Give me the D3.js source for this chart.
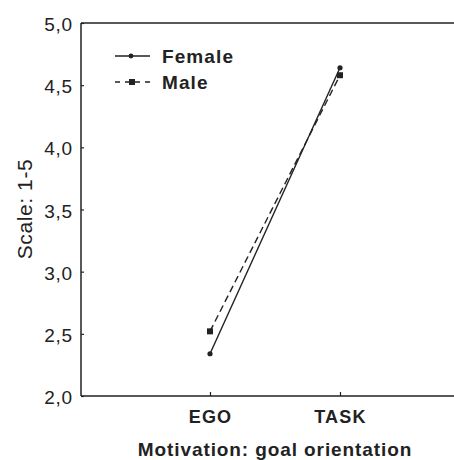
<!DOCTYPE html>
<html><head><meta charset="utf-8">
<script src="https://cdn.jsdelivr.net/npm/d3@7"></script>
<style>
html,body{margin:0;padding:0;background:#fff;}
svg{display:block;}
text{font-family:"Liberation Sans",Arial,sans-serif;fill:#222;}
</style></head>
<body><svg id="c" width="454" height="460"></svg>
<script>
const categories = ["EGO", "TASK"];
const seriesNames = ["Female", "Male"];
const femaleValues = [2.34, 4.64];
const maleValues = [2.52, 4.58];
const yTicks = [2.0, 2.5, 3.0, 3.5, 4.0, 4.5, 5.0];

(function () {
const svg = d3.select("#c");
const W = 454, H = 460;
const mLeft = 81, mTop = 23, mBottom = 396;
const ink = "#222";

const x = d3.scaleLinear().domain([-1, 2]).range([80, 470]);
const y = d3.scaleLinear().domain([2, 5]).range([mBottom, mTop]);

// frame lines: left, top, bottom
svg.append("line").attr("x1", mLeft).attr("x2", mLeft).attr("y1", mTop).attr("y2", mBottom)
  .attr("stroke", ink).attr("stroke-width", 1.5);
svg.append("line").attr("x1", mLeft).attr("x2", W).attr("y1", mTop).attr("y2", mTop)
  .attr("stroke", ink).attr("stroke-width", 1.5);
svg.append("line").attr("x1", mLeft).attr("x2", W).attr("y1", mBottom).attr("y2", mBottom)
  .attr("stroke", ink).attr("stroke-width", 1.5);

// y axis
const yAxis = d3.axisLeft(y).tickValues(yTicks).tickSize(-3).tickPadding(10)
  .tickFormat(d => d3.format(".1f")(d).replace(".", ","));
const gy = svg.append("g").attr("transform", `translate(${mLeft},0)`).call(yAxis);
gy.select(".domain").remove();
gy.selectAll(".tick line").attr("stroke", ink).attr("stroke-width", 1.2);
gy.selectAll(".tick text").attr("font-size", 19).attr("letter-spacing", 0.8)
  .style("font-family", "Liberation Sans, Arial, sans-serif").attr("fill", ink).attr("dx", 2).attr("dy", "0.4em");

// x axis
const xAxis = d3.axisBottom(x).tickValues(categories.map((c, i) => i)).tickSize(-4).tickPadding(14)
  .tickFormat(i => categories[i]);
const gx = svg.append("g").attr("transform", `translate(0,${mBottom})`).call(xAxis);
gx.select(".domain").remove();
gx.selectAll(".tick line").attr("stroke", ink).attr("stroke-width", 1.2);
gx.selectAll(".tick text").attr("font-size", 18).attr("font-weight", "bold").attr("letter-spacing", 1.2)
  .style("font-family", "Liberation Sans, Arial, sans-serif").attr("fill", ink);

// titles
svg.append("text").attr("transform", `translate(32,209) rotate(-90)`).attr("text-anchor", "middle")
  .attr("font-size", 21).attr("letter-spacing", 0.6).text("Scale: 1-5");
svg.append("text").attr("x", 275).attr("y", 456).attr("text-anchor", "middle")
  .attr("font-size", 19).attr("font-weight", "bold").attr("letter-spacing", 0.9)
  .text("Motivation: goal orientation");

// series
const line = d3.line().x((d, i) => x(i)).y(d => y(d));
svg.append("path").datum(femaleValues).attr("d", line).attr("fill", "none")
  .attr("stroke", ink).attr("stroke-width", 1.4);
svg.append("path").datum(maleValues).attr("d", line).attr("fill", "none")
  .attr("stroke", ink).attr("stroke-width", 1.4).attr("stroke-dasharray", "7,4");

svg.selectAll(".fm").data(femaleValues).enter().append("circle")
  .attr("cx", (d, i) => x(i)).attr("cy", d => y(d)).attr("r", 2.6).attr("fill", ink);
svg.selectAll(".mm").data(maleValues).enter().append("rect")
  .attr("x", (d, i) => x(i) - 3).attr("y", d => y(d) - 3).attr("width", 6).attr("height", 6).attr("fill", ink);

// legend
const lg = svg.append("g");
lg.append("line").attr("x1", 115).attr("x2", 150).attr("y1", 56).attr("y2", 56)
  .attr("stroke", ink).attr("stroke-width", 1.4);
lg.append("circle").attr("cx", 131).attr("cy", 56).attr("r", 2.4).attr("fill", ink);
lg.append("line").attr("x1", 115).attr("x2", 150).attr("y1", 82).attr("y2", 82)
  .attr("stroke", ink).attr("stroke-width", 1.4).attr("stroke-dasharray", "5,5");
lg.append("rect").attr("x", 129).attr("y", 79).attr("width", 6).attr("height", 6).attr("fill", ink);
lg.append("text").attr("x", 162).attr("y", 63).attr("font-size", 19).attr("font-weight", "bold")
  .attr("letter-spacing", 1.1).text(seriesNames[0]);
lg.append("text").attr("x", 162).attr("y", 89).attr("font-size", 19).attr("font-weight", "bold")
  .attr("letter-spacing", 1.1).text(seriesNames[1]);
})();
</script>
</body></html>
